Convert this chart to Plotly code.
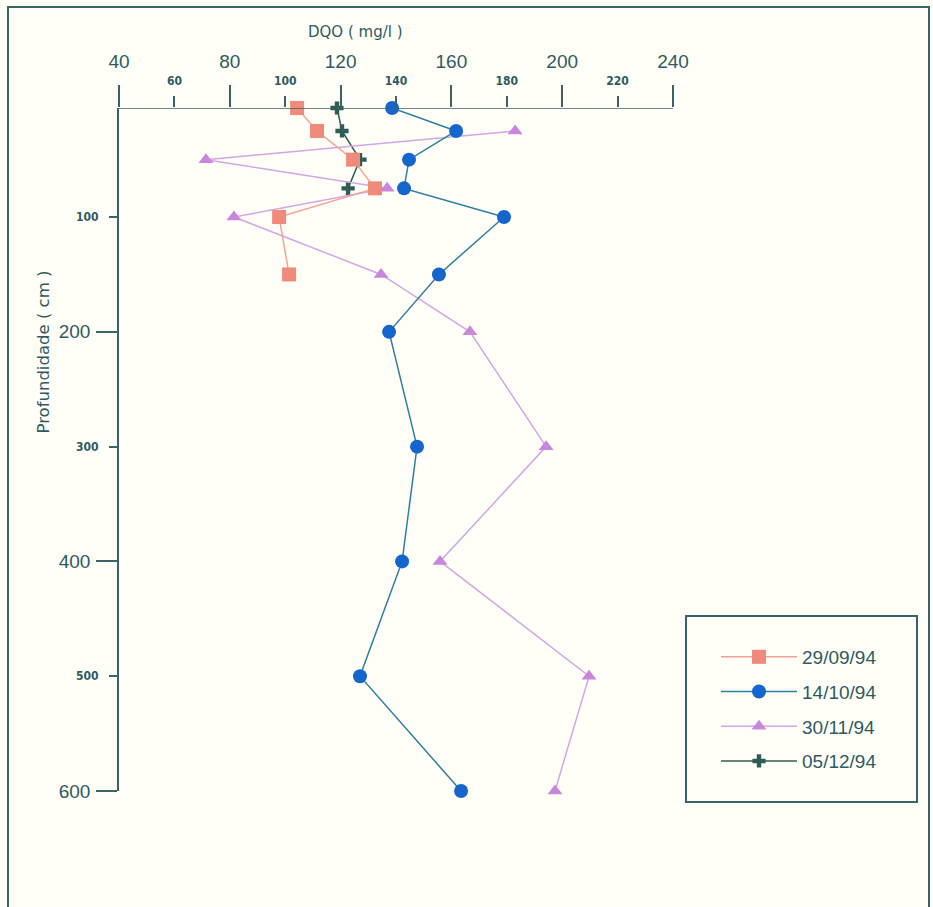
import plotly.graph_objects as go

# Chemical oxygen demand (DQO, mg/l) measured along depth profiles (cm)
depth_2909 = [5, 25, 50, 75, 100, 150]
dqo_2909 = [104.3, 111.5, 124.5, 132.4, 97.8, 101.4]

depth_1410 = [5, 25, 50, 75, 100, 150, 200, 300, 400, 500, 600]
dqo_1410 = [138.6, 161.7, 144.7, 142.9, 179.0, 155.5, 137.5, 147.6, 142.2, 127.0, 163.5]

depth_3011 = [25, 50, 75, 100, 150, 200, 300, 400, 500, 600]
dqo_3011 = [183.0, 71.4, 136.8, 81.5, 134.6, 166.7, 194.2, 155.9, 209.7, 197.4]

depth_0512 = [5, 25, 50, 75]
dqo_0512 = [118.7, 120.5, 127.0, 122.7]

x_major = [40, 80, 120, 160, 200, 240]
x_minor = [60, 100, 140, 180, 220]
y_major = [200, 400, 600]
y_minor = [100, 300, 500]

AX = "#3b6468"
TXT = "#2f5a62"
BG = "#fffff8"
SMALL_FONT = dict(size=12, color=TXT,
                  family="Liberation Sans Narrow, DejaVu Sans Condensed, sans-serif",
                  weight="bold")

# plot area in pixels: left 119, right 673, top 108, bottom 791
def px(x):
    return (x - 119) / 554


def py(y):
    return (791 - y) / 683


fig = go.Figure()

fig.add_trace(go.Scatter(
    x=dqo_0512, y=depth_0512, name="05/12/94", mode="lines+markers",
    line=dict(color="#2f5d55", width=1.5),
    marker=dict(symbol="cross", size=11, color="#2f5d55"),
    legendrank=4, legendgroup="d", cliponaxis=False))
fig.add_trace(go.Scatter(
    x=dqo_3011, y=depth_3011, name="30/11/94", mode="lines+markers",
    line=dict(color="#d3a6e6", width=1.5),
    marker=dict(symbol="triangle-up", size=13, color="#c987dc"),
    legendrank=3, legendgroup="c", cliponaxis=False))
fig.add_trace(go.Scatter(
    x=dqo_1410, y=depth_1410, name="14/10/94", mode="lines+markers",
    line=dict(color="#2f7f9f", width=1.5),
    marker=dict(symbol="circle", size=14, color="#1466cc"),
    legendrank=2, legendgroup="b", cliponaxis=False))
fig.add_trace(go.Scatter(
    x=dqo_2909, y=depth_2909, name="29/09/94", mode="lines+markers",
    line=dict(color="#f3a393", width=1.5),
    marker=dict(symbol="square", size=14, color="#f08a7a"),
    legendrank=1, legendgroup="a", cliponaxis=False))

# Secondary (overlaid) axes carry the smaller intermediate tick labels
fig.add_trace(go.Scatter(x=[None], y=[None], xaxis="x2", yaxis="y2",
                         showlegend=False, hoverinfo="skip"))

common_x = dict(range=[40, 240], side="top", showgrid=False, zeroline=False,
                showline=False, ticks="outside", tickcolor=AX, tickwidth=1.5)
common_y = dict(range=[600, 5], showgrid=False, zeroline=False,
                ticks="outside", tickcolor=AX, tickwidth=1.5)

fig.update_layout(
    width=933, height=907,
    margin=dict(l=119, r=260, t=108, b=116),
    paper_bgcolor=BG, plot_bgcolor=BG,
    font=dict(family="Liberation Sans, Arial, sans-serif", color=TXT),
    xaxis=dict(**common_x, tickvals=x_major, ticklen=22, ticklabelstandoff=9,
               tickfont=dict(size=19, color=TXT), anchor="y"),
    xaxis2=dict(**common_x, tickvals=x_minor, ticklen=11, overlaying="x",
                ticklabelstandoff=6, tickfont=SMALL_FONT, anchor="y2"),
    yaxis=dict(**common_y, tickvals=y_major, ticklen=21, showline=True,
               linecolor=AX, linewidth=1.5, ticklabelstandoff=2,
               tickfont=dict(size=19, color=TXT), anchor="x"),
    yaxis2=dict(**common_y, tickvals=y_minor, ticklen=9, overlaying="y",
                showline=False, ticklabelstandoff=8,
                tickfont=SMALL_FONT, anchor="x2"),
    legend=dict(x=px(716), y=py(638), xanchor="left", yanchor="top",
                bgcolor="rgba(0,0,0,0)", borderwidth=0,
                font=dict(size=19, color=TXT), itemwidth=76,
                traceorder="grouped", tracegroupgap=7, itemclick=False),
    showlegend=True,
)

# horizontal axis line along the top of the profile
fig.add_shape(type="line", xref="x", yref="y", x0=40, x1=240, y0=5, y1=5,
              line=dict(color=AX, width=1.5))

# outer frame
fig.add_shape(type="rect", xref="paper", yref="paper",
              x0=px(8), x1=px(929), y0=py(960), y1=py(7),
              line=dict(color=AX, width=2), layer="below")

# legend frame
fig.add_shape(type="rect", xref="paper", yref="paper",
              x0=px(686), x1=px(917), y0=py(802), y1=py(616),
              line=dict(color=AX, width=2), fillcolor=BG, layer="below")

fig.add_annotation(text="DQO ( mg/l )", xref="paper", yref="paper",
                   x=px(355), y=py(21), showarrow=False,
                   font=dict(size=15, color=TXT, family="DejaVu Sans, sans-serif"))
fig.add_annotation(text="Profundidade ( cm )", xref="paper", yref="paper",
                   x=px(31), y=py(352), showarrow=False, textangle=-90,
                   font=dict(size=16.5, color=TXT, family="DejaVu Sans, sans-serif"))

fig.write_html("out.html")
